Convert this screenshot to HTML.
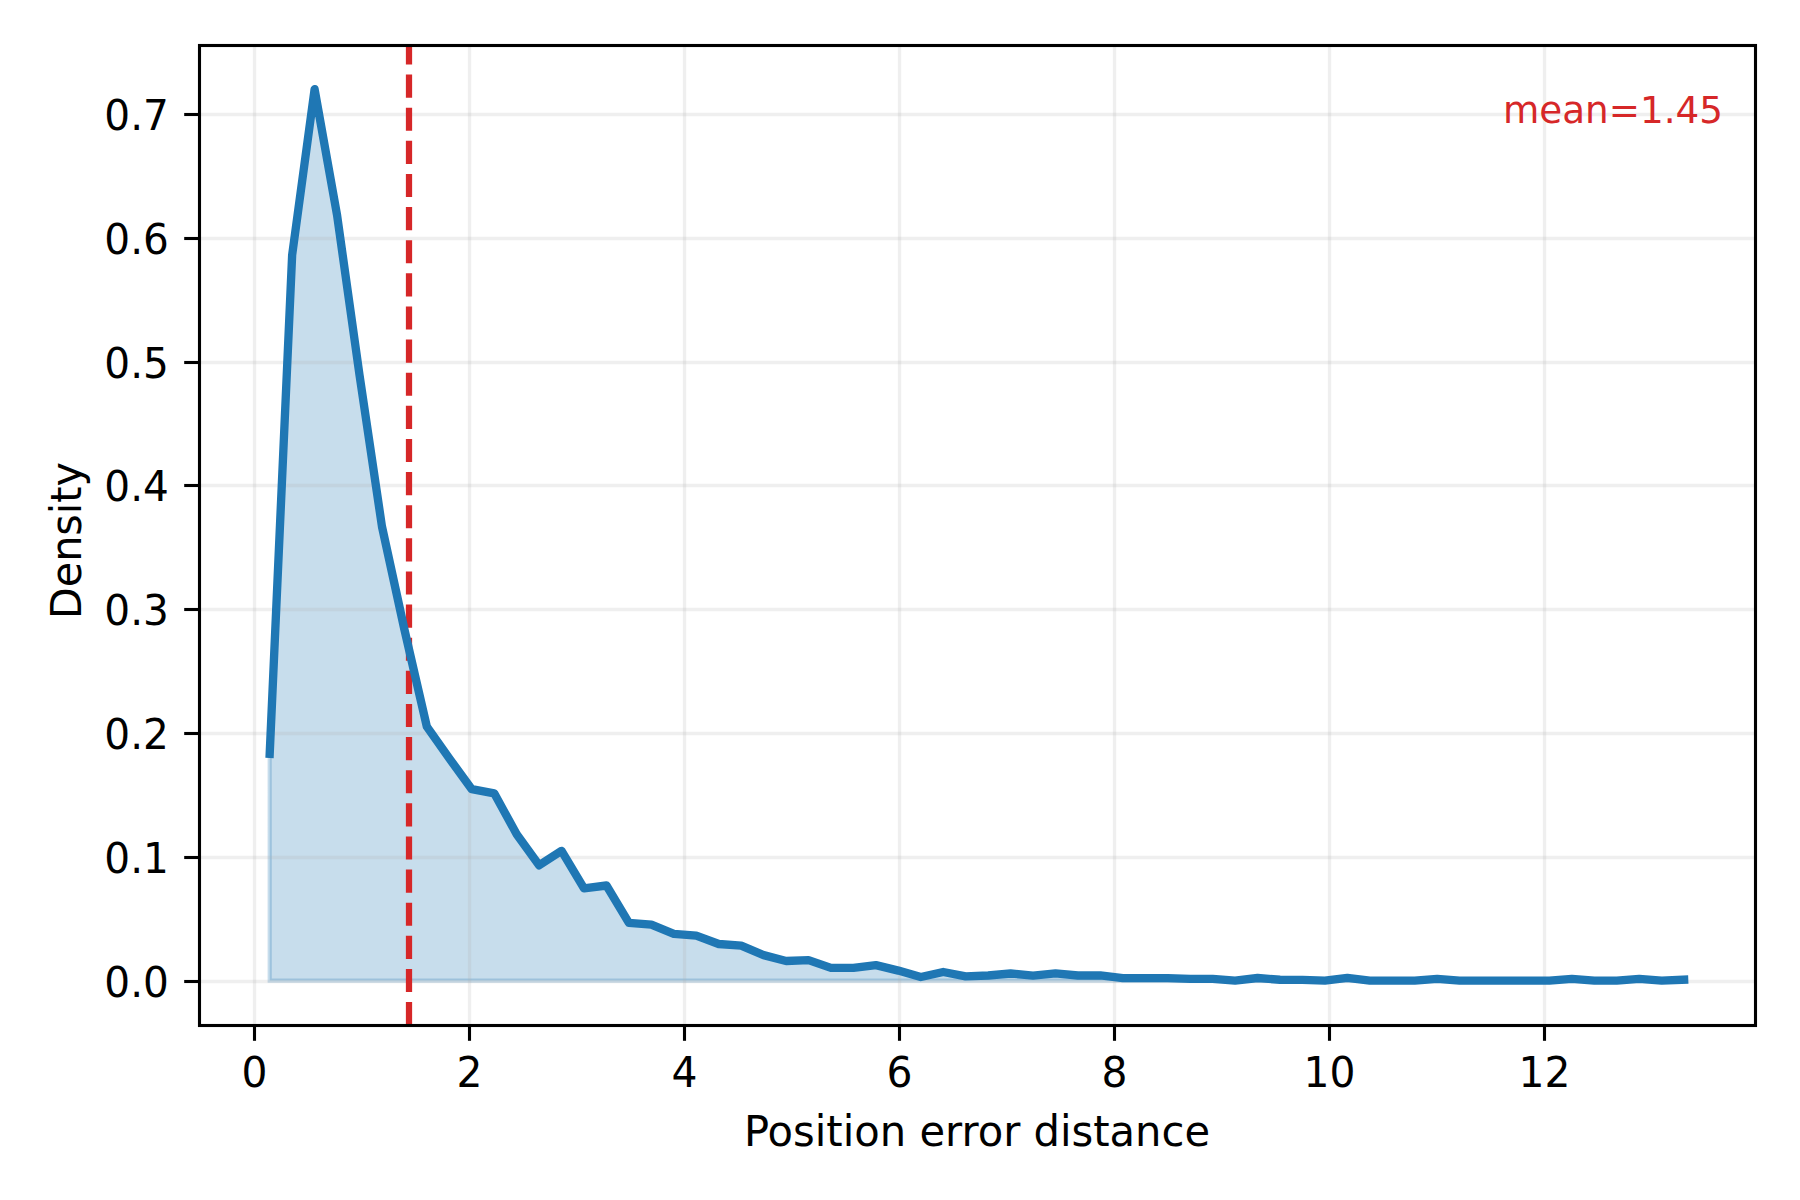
<!DOCTYPE html>
<html lang="en">
<head>
<meta charset="utf-8">
<title>Position error distance density</title>
<style>
html,body{margin:0;padding:0;background:#fff;}
body{width:1800px;height:1200px;overflow:hidden;}
svg{display:block;}
text{font-family:"DejaVu Sans", "Liberation Sans", sans-serif;font-size:41.667px;fill:#000;}
.grid line{stroke:#b0b0b0;stroke-opacity:0.2;stroke-width:3.333;}
.tick line,.spine{stroke:#000;stroke-width:3.1;fill:none;}
</style>
</head>
<body>
<svg width="1800" height="1200" viewBox="0 0 1800 1200">
<rect x="0" y="0" width="1800" height="1200" fill="#ffffff"/>
<defs><clipPath id="axclip"><rect x="199.5" y="45.5" width="1556.0" height="980.0"/></clipPath></defs>

<g clip-path="url(#axclip)">
<polygon points="269.70,980.60 269.70,753.80 292.15,255.00 314.60,89.20 337.05,215.00 359.51,375.00 381.96,526.50 404.41,629.50 426.86,726.70 449.31,758.40 471.76,789.20 494.21,793.30 516.67,834.20 539.12,865.30 561.57,850.80 584.02,888.30 606.47,885.50 628.92,922.80 651.38,924.70 673.83,933.90 696.28,935.65 718.73,944.00 741.18,945.65 763.63,955.10 786.08,961.00 808.54,960.10 830.99,967.90 853.44,967.90 875.89,965.15 898.34,970.60 920.79,977.05 943.24,972.00 965.70,976.30 988.15,975.50 1010.60,973.50 1033.05,975.55 1055.50,973.45 1077.95,975.50 1100.41,975.45 1122.86,978.05 1145.31,978.05 1167.76,978.10 1190.21,978.80 1212.66,978.85 1235.11,980.60 1257.57,978.00 1280.02,979.75 1302.47,979.80 1324.92,980.60 1347.37,977.95 1369.82,980.60 1392.28,980.60 1414.73,980.60 1437.18,978.90 1459.63,980.60 1482.08,980.60 1504.53,980.60 1526.98,980.60 1549.44,980.60 1571.89,978.90 1594.34,980.60 1616.79,980.60 1639.24,978.90 1661.69,980.60 1684.14,979.70 1684.14,980.60" fill="#1f77b4" fill-opacity="0.25" stroke="#1f77b4" stroke-opacity="0.25" stroke-width="4.167" stroke-linejoin="miter"/>
<g class="grid">
<line x1="254.5" y1="45.5" x2="254.5" y2="1025.5"/>
<line x1="469.5" y1="45.5" x2="469.5" y2="1025.5"/>
<line x1="684.5" y1="45.5" x2="684.5" y2="1025.5"/>
<line x1="899.5" y1="45.5" x2="899.5" y2="1025.5"/>
<line x1="1114.5" y1="45.5" x2="1114.5" y2="1025.5"/>
<line x1="1329.5" y1="45.5" x2="1329.5" y2="1025.5"/>
<line x1="1544.5" y1="45.5" x2="1544.5" y2="1025.5"/>
<line x1="199.5" y1="981.5" x2="1755.5" y2="981.5"/>
<line x1="199.5" y1="857.5" x2="1755.5" y2="857.5"/>
<line x1="199.5" y1="733.5" x2="1755.5" y2="733.5"/>
<line x1="199.5" y1="609.5" x2="1755.5" y2="609.5"/>
<line x1="199.5" y1="485.5" x2="1755.5" y2="485.5"/>
<line x1="199.5" y1="362.5" x2="1755.5" y2="362.5"/>
<line x1="199.5" y1="238.5" x2="1755.5" y2="238.5"/>
<line x1="199.5" y1="114.5" x2="1755.5" y2="114.5"/>
</g>
<line x1="409" y1="1025.5" x2="409" y2="45.5" stroke="#d62728" stroke-width="6.25" stroke-dasharray="23.125 10" stroke-dashoffset="-0.35" stroke-linecap="butt"/>
<polyline points="269.70,753.80 292.15,255.00 314.60,89.20 337.05,215.00 359.51,375.00 381.96,526.50 404.41,629.50 426.86,726.70 449.31,758.40 471.76,789.20 494.21,793.30 516.67,834.20 539.12,865.30 561.57,850.80 584.02,888.30 606.47,885.50 628.92,922.80 651.38,924.70 673.83,933.90 696.28,935.65 718.73,944.00 741.18,945.65 763.63,955.10 786.08,961.00 808.54,960.10 830.99,967.90 853.44,967.90 875.89,965.15 898.34,970.60 920.79,977.05 943.24,972.00 965.70,976.30 988.15,975.50 1010.60,973.50 1033.05,975.55 1055.50,973.45 1077.95,975.50 1100.41,975.45 1122.86,978.05 1145.31,978.05 1167.76,978.10 1190.21,978.80 1212.66,978.85 1235.11,980.60 1257.57,978.00 1280.02,979.75 1302.47,979.80 1324.92,980.60 1347.37,977.95 1369.82,980.60 1392.28,980.60 1414.73,980.60 1437.18,978.90 1459.63,980.60 1482.08,980.60 1504.53,980.60 1526.98,980.60 1549.44,980.60 1571.89,978.90 1594.34,980.60 1616.79,980.60 1639.24,978.90 1661.69,980.60 1684.14,979.70" fill="none" stroke="#1f77b4" stroke-width="8.333" stroke-linejoin="round" stroke-linecap="square"/>
</g>
<g class="tick">
<line x1="254.5" y1="1025.5" x2="254.5" y2="1040.8"/>
<line x1="469.5" y1="1025.5" x2="469.5" y2="1040.8"/>
<line x1="684.5" y1="1025.5" x2="684.5" y2="1040.8"/>
<line x1="899.5" y1="1025.5" x2="899.5" y2="1040.8"/>
<line x1="1114.5" y1="1025.5" x2="1114.5" y2="1040.8"/>
<line x1="1329.5" y1="1025.5" x2="1329.5" y2="1040.8"/>
<line x1="1544.5" y1="1025.5" x2="1544.5" y2="1040.8"/>
<line x1="199.5" y1="981.5" x2="184.2" y2="981.5"/>
<line x1="199.5" y1="857.5" x2="184.2" y2="857.5"/>
<line x1="199.5" y1="733.5" x2="184.2" y2="733.5"/>
<line x1="199.5" y1="609.5" x2="184.2" y2="609.5"/>
<line x1="199.5" y1="485.5" x2="184.2" y2="485.5"/>
<line x1="199.5" y1="362.5" x2="184.2" y2="362.5"/>
<line x1="199.5" y1="238.5" x2="184.2" y2="238.5"/>
<line x1="199.5" y1="114.5" x2="184.2" y2="114.5"/>
</g>
<rect class="spine" x="199.5" y="45.5" width="1556.0" height="980.0" stroke-linejoin="miter"/>
<text transform="translate(254.50,1087.30) scale(0.98,1.04)" text-anchor="middle">0</text>
<text transform="translate(469.50,1087.30) scale(0.98,1.04)" text-anchor="middle">2</text>
<text transform="translate(684.50,1087.30) scale(0.98,1.04)" text-anchor="middle">4</text>
<text transform="translate(899.50,1087.30) scale(0.98,1.04)" text-anchor="middle">6</text>
<text transform="translate(1114.50,1087.30) scale(0.98,1.04)" text-anchor="middle">8</text>
<text transform="translate(1329.50,1087.30) scale(0.98,1.04)" text-anchor="middle">10</text>
<text transform="translate(1544.50,1087.30) scale(0.98,1.04)" text-anchor="middle">12</text>
<text transform="translate(168.90,997.00) scale(0.975,1.04)" text-anchor="end">0.0</text>
<text transform="translate(168.90,873.00) scale(0.975,1.04)" text-anchor="end">0.1</text>
<text transform="translate(168.90,749.00) scale(0.975,1.04)" text-anchor="end">0.2</text>
<text transform="translate(168.90,625.00) scale(0.975,1.04)" text-anchor="end">0.3</text>
<text transform="translate(168.90,501.00) scale(0.975,1.04)" text-anchor="end">0.4</text>
<text transform="translate(168.90,378.00) scale(0.975,1.04)" text-anchor="end">0.5</text>
<text transform="translate(168.90,254.00) scale(0.975,1.04)" text-anchor="end">0.6</text>
<text transform="translate(168.90,130.00) scale(0.975,1.04)" text-anchor="end">0.7</text>
<text transform="translate(977.00,1145.60) scale(1,1.04)" text-anchor="middle">Position error distance</text>
<text transform="translate(80.80,540.50) rotate(-90) scale(0.99,1.04)" text-anchor="middle">Density</text>
<text transform="translate(1723.00,123.00) scale(1,1.01)" text-anchor="end" style="font-size:37.3px;fill:#d62728;">mean=1.45</text>
</svg>
</body>
</html>
